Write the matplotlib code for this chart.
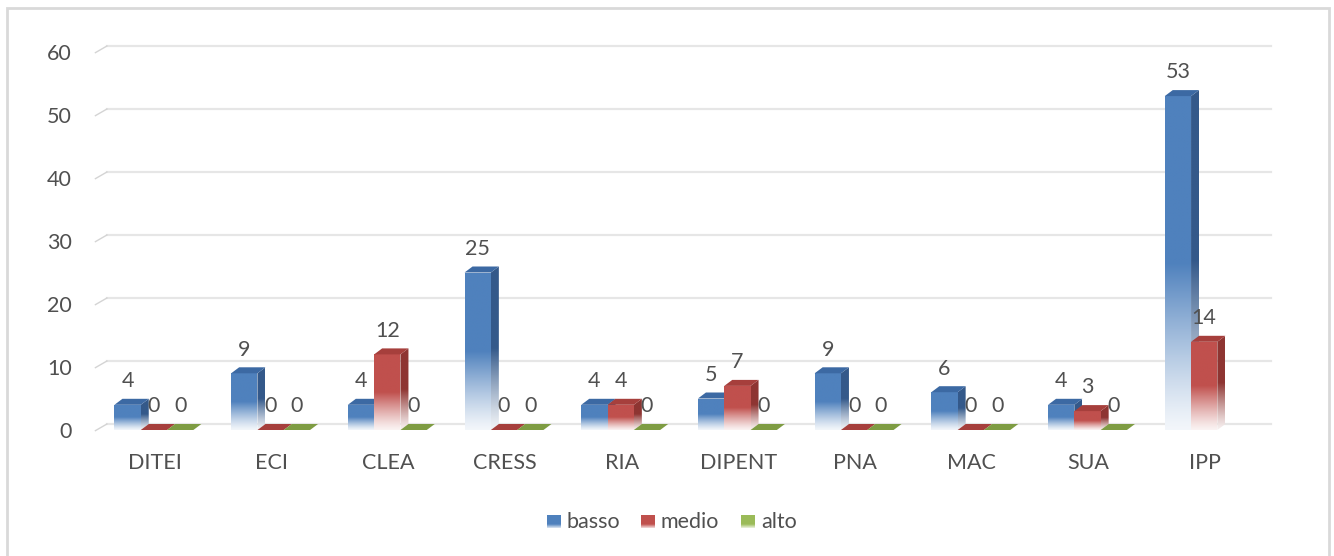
import numpy as np
import matplotlib
matplotlib.use("Agg")
import matplotlib.pyplot as plt
from matplotlib.patches import Polygon, Rectangle
from matplotlib.colors import to_rgb

categories = ["DITEI", "ECI", "CLEA", "CRESS", "RIA", "DIPENT", "PNA", "MAC", "SUA", "IPP"]
series_names = ["basso", "medio", "alto"]
basso = [4, 9, 4, 25, 4, 5, 9, 6, 4, 53]
medio = [0, 0, 12, 0, 4, 7, 0, 0, 3, 14]
alto = [0, 0, 0, 0, 0, 0, 0, 0, 0, None]
y_ticks = [0, 10, 20, 30, 40, 50, 60]

front_cols = ["#4F81BD", "#C0504D", "#9BBB59"]
side_cols = ["#34598A", "#8E3532", "#6F8A3A"]
top_cols = ["#3C69A3", "#A63F3C", "#7E9C43"]
TXT = "#505050"
FONT = "Lato"
FS = 15.5

W, H = 1334, 556
fig = plt.figure(figsize=(W / 100, H / 100), dpi=100)

px_left, px_right = 96.6, 1263.6
px_top, px_bot = 40, 440
base_px, top60_px = 430, 52
ppu = (base_px - top60_px) / 60.0
ylo = -(px_bot - base_px) / ppu
yhi = 60 + (top60_px - px_top) / ppu
ax = fig.add_axes([px_left / W, 1 - px_bot / H, (px_right - px_left) / W, (px_bot - px_top) / H])
ax.set_xlim(-0.5, 9.5)
ax.set_ylim(ylo, yhi)
ax.patch.set_visible(False)
for s in ax.spines.values():
    s.set_visible(False)
ax.set_xticks([])
ax.set_yticks(y_ticks)
ax.set_yticklabels([str(v) for v in y_ticks], fontsize=FS, color=TXT, family=FONT)
ax.tick_params(axis="y", length=0, pad=18)

ux = (px_right - px_left) / 10.0
dx = 8 / ux
dy = 6 / ppu
bw = 26.3 / ux
offsets = [-40.5 / ux, -14.2 / ux, 12.1 / ux]

for v in y_ticks:
    ax.plot([-0.5 + dx + 0.02, 9.5 + 0.06], [v + dy, v + dy], color="#E6E6E6", lw=1.6, zorder=0, clip_on=False)
    ax.plot([-0.5 - 0.01, -0.5 + dx + 0.02], [v - 0.1, v + dy], color="#D4D4D4", lw=1.0, zorder=0, clip_on=False)


def mix(c, t, lo=0.07):
    c = np.array(to_rgb(c))
    f = np.clip(t / 0.5, 0, 1)
    f = lo + (1 - lo) * f ** 1.2
    return (1 - f)[:, None] * np.ones(3) + f[:, None] * c


def grad_face(poly_pts, x0, x1, ytop, col, z):
    patch = Polygon(poly_pts, closed=True, facecolor="none", edgecolor="none", transform=ax.transData)
    ax.add_patch(patch)
    n = 200
    t = np.linspace(0, 1, n)
    img = mix(col, t)[:, None, :]
    im = ax.imshow(img, extent=[x0, x1, 0, ytop], origin="lower", aspect="auto",
                   interpolation="bilinear", zorder=z)
    im.set_clip_path(patch)


all_series = [basso, medio, alto]
for si, vals in enumerate(all_series):
    for ci, v in enumerate(vals):
        if v is None:
            continue
        x0 = ci + offsets[si]
        x1 = x0 + bw
        z = 2 + si * 0.1 + ci * 0.001
        if v > 0:
            grad_face([(x0, 0), (x1, 0), (x1, v), (x0, v)], x0, x1, v, front_cols[si], z)
            grad_face([(x1, 0), (x1 + dx, dy), (x1 + dx, v + dy), (x1, v)], x1, x1 + dx, v + dy, side_cols[si], z)
        top = Polygon([(x0, v), (x0 + dx, v + dy), (x1 + dx, v + dy), (x1, v)], closed=True,
                      facecolor=top_cols[si], edgecolor="none", zorder=z + 0.01)
        ax.add_patch(top)
        ax.annotate(str(v), (x0 + bw / 2, v), xytext=(0, 17), textcoords="offset points",
                    ha="center", va="center", fontsize=FS, color=TXT, family=FONT, zorder=10)

for ci, c in enumerate(categories):
    ax.annotate(c, (ci, 0), xytext=(0, -24), textcoords="offset points", ha="center", va="center",
                fontsize=FS, color=TXT, family=FONT, annotation_clip=False)

bg = fig.add_axes([0, 0, 1, 1], zorder=-1)
bg.set_xlim(0, W)
bg.set_ylim(H, 0)
bg.axis("off")
bg.add_patch(Rectangle((7, 8), 1322, 560, facecolor="white", edgecolor="#D9D9D9", lw=2, zorder=0))

leg_x = [547, 641, 741]
for si, name in enumerate(series_names):
    xs = leg_x[si]
    t = np.linspace(0, 1, 50)
    c = np.array(to_rgb(front_cols[si]))
    f = np.clip(np.where(t < 0.3, 0.2 + 2.7 * t, 1.0), 0, 1)
    img = ((1 - f)[:, None] * np.ones(3) + f[:, None] * c)[:, None, :]
    bg.imshow(img, extent=[xs, xs + 14, 528, 515], origin="lower", aspect="auto",
              interpolation="bilinear", zorder=3)
    bg.text(xs + 20, 522, name, ha="left", va="center", fontsize=FS, color=TXT, family=FONT, zorder=4)
bg.set_xlim(0, W)
bg.set_ylim(H, 0)

fig.savefig("out.png", dpi=100, facecolor="white")
